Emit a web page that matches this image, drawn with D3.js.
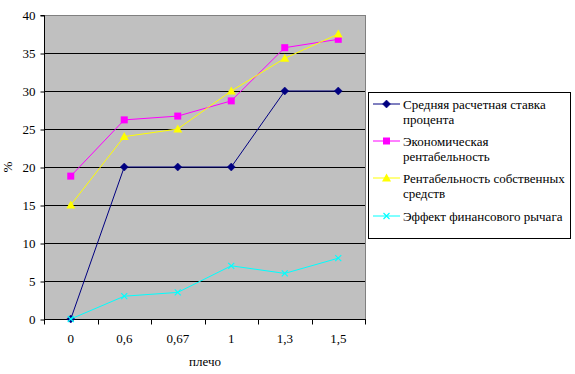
<!DOCTYPE html>
<html>
<head>
<meta charset="utf-8">
<script src="https://cdn.jsdelivr.net/npm/d3@7"></script>
<style>
  body { margin: 0; background: #fff; }
</style>
</head>
<body>
<div id="chart"></div>
<script>
"use strict";

const categories = ["0", "0,6", "0,67", "1", "1,3", "1,5"];
const rate = [0, 20, 20, 20, 30, 30];
const econ = [18.8, 26.2, 26.7, 28.7, 35.7, 36.8];
const equity = [15, 24, 25, 30, 34.3, 37.5];
const leverage = [0, 3, 3.5, 7, 6, 8];
const yTicks = [0, 5, 10, 15, 20, 25, 30, 35, 40];

const series = [
  {name: ["Средняя расчетная ставка", "процента"], values: rate, color: "#000080", marker: "diamond"},
  {name: ["Экономическая", "рентабельность"], values: econ, color: "#ff00ff", marker: "square"},
  {name: ["Рентабельность собственных", "средств"], values: equity, color: "#ffff00", marker: "triangle"},
  {name: ["Эффект финансового рычага"], values: leverage, color: "#00ffff", marker: "cross"}
];

const FONT = "Liberation Serif";
const width = 575, height = 374;
const plot = {left: 44, right: 365, top: 15, bottom: 319};

const svg = d3.select("#chart").append("svg")
    .attr("width", width)
    .attr("height", height)
    .attr("font-family", FONT);

const x = d3.scaleBand()
    .domain(categories)
    .range([plot.left, plot.right]);

const y = d3.scaleLinear()
    .domain([0, 40])
    .range([plot.bottom, plot.top]);

// plot background
svg.append("rect")
    .attr("x", plot.left + 0.5)
    .attr("y", plot.top + 0.5)
    .attr("width", plot.right - plot.left)
    .attr("height", plot.bottom - plot.top)
    .style("fill", "#c0c0c0")
    .style("stroke", "#808080")
    .style("stroke-width", 1);

// gridlines
svg.selectAll(".grid")
    .data(yTicks.filter(d => d > 0 && d < 40))
    .enter().append("line")
    .attr("x1", plot.left)
    .attr("x2", plot.right)
    .attr("y1", d => Math.round(y(d)) + 0.5)
    .attr("y2", d => Math.round(y(d)) + 0.5)
    .style("stroke", "#000")
    .style("stroke-width", 1);

// y axis
const yAxis = svg.append("g")
    .attr("transform", `translate(${plot.left + 0.5},0.5)`)
    .call(d3.axisLeft(y).tickValues(yTicks).tickSize(4).tickPadding(5).tickFormat(d3.format("d")));
yAxis.attr("font-family", FONT).attr("font-size", 13);
yAxis.select(".domain").attr("d", `M-4,${y(40)}H0V${y(0)}`);
yAxis.selectAll("text").attr("fill", "#000").attr("font-family", FONT);

// x axis
const xAxis = svg.append("g")
    .attr("transform", `translate(0,${plot.bottom + 0.5})`);
xAxis.append("line")
    .attr("x1", plot.left)
    .attr("x2", plot.right + 1)
    .style("stroke", "#000");
const edges = categories.map(c => x(c)).concat([plot.right]);
xAxis.selectAll(".xtick")
    .data(edges)
    .enter().append("line")
    .attr("x1", d => Math.round(d) + 0.5)
    .attr("x2", d => Math.round(d) + 0.5)
    .attr("y1", 0)
    .attr("y2", 5)
    .style("stroke", "#000");
xAxis.selectAll(".xlabel")
    .data(categories)
    .enter().append("text")
    .attr("x", d => x(d) + x.bandwidth() / 2)
    .attr("y", 23)
    .attr("text-anchor", "middle")
    .attr("font-size", 13)
    .attr("font-family", FONT)
    .text(d => d);

// axis titles
svg.append("text")
    .attr("x", 205)
    .attr("y", 366)
    .attr("text-anchor", "middle")
    .attr("font-size", 13)
    .attr("font-family", FONT)
    .text("плечо");

svg.append("text")
    .attr("transform", "translate(12,167) rotate(-90)")
    .attr("text-anchor", "middle")
    .attr("font-size", 13)
    .attr("font-family", FONT)
    .text("%");

// lines and markers
const line = d3.line()
    .x((d, i) => x(categories[i]) + x.bandwidth() / 2)
    .y(d => y(d));

const drawMarker = function(g, type, color){
  if (type === "diamond") {
    g.append("path").attr("d", "M0,-4L4,0L0,4L-4,0Z").style("fill", color).style("stroke", color).style("stroke-width", 0.5);
  } else if (type === "square") {
    g.append("rect").attr("x", -3.5).attr("y", -3.5).attr("width", 7).attr("height", 7).style("fill", color);
  } else if (type === "triangle") {
    g.append("path").attr("d", "M0,-4.5L4.5,3.5L-4.5,3.5Z").style("fill", color);
  } else {
    g.append("path").attr("d", "M-3,-3L3,3M-3,3L3,-3").style("stroke", color).style("stroke-width", 1.2);
  }
};

series.forEach(function(s){
  svg.append("path")
      .datum(s.values)
      .attr("d", line)
      .style("fill", "none")
      .style("stroke", s.color)
      .style("stroke-width", 1);
  s.values.forEach(function(v, i){
    const g = svg.append("g")
        .attr("transform", `translate(${x(categories[i]) + x.bandwidth() / 2},${y(v)})`);
    drawMarker(g, s.marker, s.color);
  });
});

// legend
const legend = svg.append("g");
legend.append("rect")
    .attr("x", 368.5)
    .attr("y", 92.5)
    .attr("width", 202)
    .attr("height", 146)
    .style("fill", "#fff")
    .style("stroke", "#000");

const rowY = [104, 141, 178, 216];
series.forEach(function(s, i){
  const cy = rowY[i];
  legend.append("line")
      .attr("x1", 373)
      .attr("x2", 400)
      .attr("y1", cy)
      .attr("y2", cy)
      .style("stroke", s.color)
      .style("stroke-width", 1);
  const g = legend.append("g").attr("transform", `translate(386.5,${cy})`);
  drawMarker(g, s.marker, s.color);
  s.name.forEach(function(t, j){
    legend.append("text")
        .attr("x", 403)
        .attr("y", cy + 5 + j * 14.5)
        .attr("font-size", 13)
        .attr("font-family", FONT)
        .text(t);
  });
});
</script>
</body>
</html>
